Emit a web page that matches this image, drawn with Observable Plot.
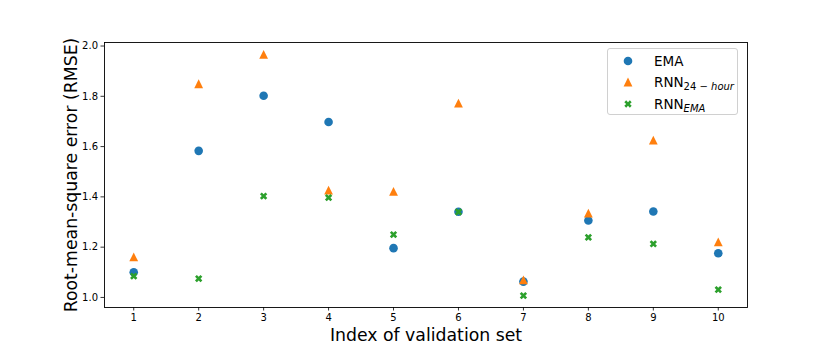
<!DOCTYPE html>
<html>
<head>
<meta charset="utf-8">
<script src="https://cdn.jsdelivr.net/npm/d3@7"></script>
<script src="https://cdn.jsdelivr.net/npm/@observablehq/plot@0.6"></script>
<style>
  html, body { margin: 0; padding: 0; background: white; }
  #wrap { position: relative; width: 830px; height: 346px; font-family: "DejaVu Sans", sans-serif; }
  #legend { position: absolute; left: 607px; top: 48px; width: 131px; height: 67px;
    border: 1px solid #d0d0d0; border-radius: 3px; background: rgba(255,255,255,0.8); box-sizing: border-box; }
  .row { position: absolute; left: 0; height: 20px; width: 131px; }
  .row svg { position: absolute; left: 11px; top: 0; }
  .row .lab { position: absolute; left: 46px; top: 1px; font-size: 13.5px; color: black; white-space: nowrap; line-height: 18px; }
  .row sub { font-size: 10px; vertical-align: -3px; line-height: 0; }
  .row sub i { font-style: italic; }
</style>
</head>
<body>
<div id="wrap"></div>
<script>
// ---- data ----
const validationIndex = [1, 2, 3, 4, 5, 6, 7, 8, 9, 10];
const emaRmse     = [1.100, 1.583, 1.802, 1.698, 1.196, 1.341, 1.063, 1.306, 1.342, 1.176];
const rnn24Rmse   = [1.161, 1.850, 1.967, 1.427, 1.422, 1.773, 1.070, 1.335, 1.626, 1.221];
const rnnEmaRmse  = [1.085, 1.075, 1.403, 1.397, 1.250, 1.340, 1.007, 1.239, 1.213, 1.031];
const xTicks = [1, 2, 3, 4, 5, 6, 7, 8, 9, 10];
const yTicks = [1.0, 1.2, 1.4, 1.6, 1.8, 2.0];
const colors = ["#1f77b4", "#ff7f0e", "#2ca02c"];
const xLabel = "Index of validation set";
const yLabel = "Root-mean-square error (RMSE)";

// ---- symbols (matplotlib-like) ----
const circSym = {draw(ctx, size) {
  const r = Math.sqrt(size / Math.PI);
  ctx.moveTo(r, 0); ctx.arc(0, 0, r, 0, 2 * Math.PI);
}};
const triSym = {draw(ctx, size) {
  const r = Math.sqrt(size / Math.PI);
  ctx.moveTo(0, -r); ctx.lineTo(r, r); ctx.lineTo(-r, r); ctx.closePath();
}};
const xSym = {draw(ctx, size) {
  const a = Math.sqrt(size / Math.PI), w = a / 3, s = Math.SQRT1_2;
  const pts = [[-w,-a],[w,-a],[w,-w],[a,-w],[a,w],[w,w],[w,a],[-w,a],[-w,w],[-a,w],[-a,-w],[-w,-w]]
    .map(([x, y]) => [(x - y) * s, (x + y) * s]);
  ctx.moveTo(pts[0][0], pts[0][1]);
  for (const p of pts.slice(1)) ctx.lineTo(p[0], p[1]);
  ctx.closePath();
}};

const rows = (vals) => validationIndex.map((x, i) => ({x, y: vals[i]}));

const chart = Plot.plot({
  width: 830,
  height: 346,
  marginLeft: 104,
  marginRight: 83,
  marginTop: 42,
  marginBottom: 39,
  style: {fontFamily: "DejaVu Sans, sans-serif", fontSize: "10px", background: "white", color: "black"},
  x: {domain: [0.55, 10.45], label: null},
  y: {domain: [0.96, 2.014], label: null},
  marks: [
    Plot.axisX({ticks: xTicks, tickSize: 3.5, tickPadding: 3, tickFormat: d => String(d), fontSize: 10, label: null, strokeWidth: 0.8}),
    Plot.axisY({ticks: yTicks, tickSize: 3.5, tickPadding: 3, tickFormat: d3.format(".1f"), fontSize: 10, label: null, strokeWidth: 0.8}),
    Plot.dot(rows(emaRmse), {x: "x", y: "y", r: 4.3, symbol: circSym, fill: colors[0], stroke: "none"}),
    Plot.dot(rows(rnn24Rmse), {x: "x", y: "y", r: 4.4, symbol: triSym, fill: colors[1], stroke: "none"}),
    Plot.dot(rows(rnnEmaRmse), {x: "x", y: "y", r: 3.9, symbol: xSym, fill: colors[2], stroke: "none"}),
    Plot.frame({stroke: "black", strokeWidth: 0.9}),
    Plot.text([xLabel], {text: d => d, frameAnchor: "bottom", lineAnchor: "bottom", textAnchor: "middle", dy: 33, fontSize: 17.3, fill: "black"}),
    Plot.text([yLabel], {text: d => d, frameAnchor: "left", lineAnchor: "bottom", textAnchor: "middle", rotate: -90, dx: -28, fontSize: 17.3, fill: "black"})
  ]
});

const wrap = document.getElementById("wrap");
wrap.appendChild(chart);

// ---- legend ----
const legend = document.createElement("div");
legend.id = "legend";
const symPath = (sym, r) => { const p = d3.path(); sym.draw(p, Math.PI * r * r); return p.toString(); };
const legendItems = [
  {d: symPath(circSym, 4.3), color: colors[0], html: "EMA"},
  {d: symPath(triSym, 4.4), color: colors[1], html: "RNN<sub>24 &minus; <i>hour</i></sub>"},
  {d: symPath(xSym, 3.9), color: colors[2], html: "RNN<sub><i>EMA</i></sub>"}
];
const rowTops = [2, 23, 45];
legendItems.forEach((it, i) => {
  const row = document.createElement("div");
  row.className = "row";
  row.style.top = rowTops[i] + "px";
  row.innerHTML = `<svg width="18" height="20"><path transform="translate(9,10)" d="${it.d}" fill="${it.color}"/></svg><span class="lab">${it.html}</span>`;
  legend.appendChild(row);
});
wrap.appendChild(legend);
</script>
</body>
</html>
